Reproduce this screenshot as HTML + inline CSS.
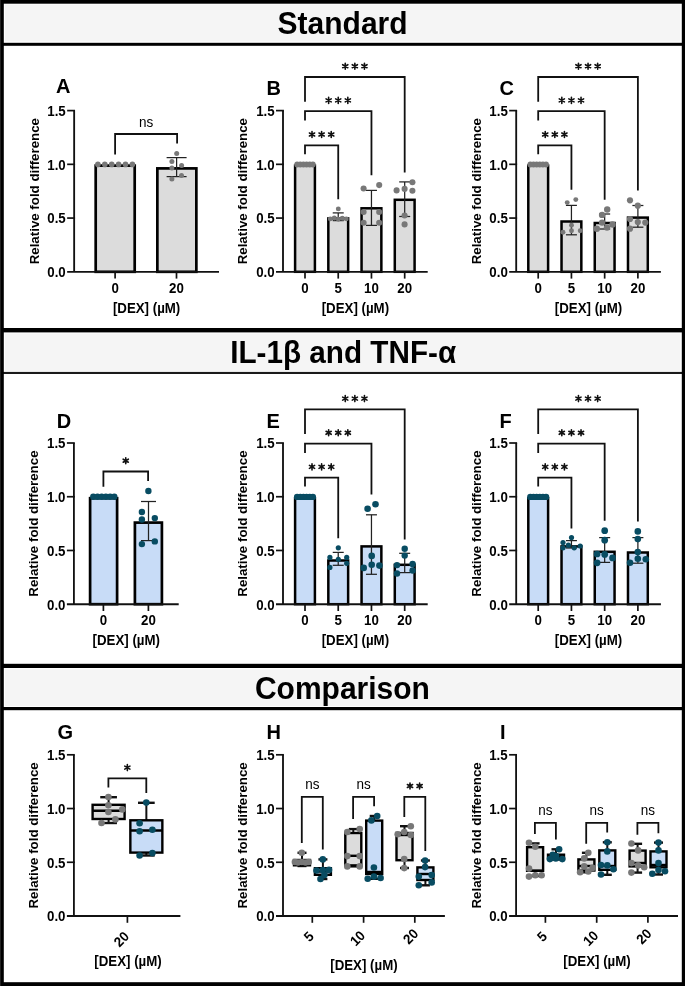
<!DOCTYPE html>
<html><head><meta charset="utf-8"><style>
html,body{margin:0;padding:0;background:#fff;}
svg{display:block;font-family:"Liberation Sans", sans-serif;will-change:transform;}
</style></head><body>
<svg width="685" height="986" viewBox="0 0 685 986" font-family='"Liberation Sans", sans-serif'>
<rect x="0" y="0" width="685" height="986" fill="#fff"/>
<rect x="5" y="4.5" width="675.2" height="37.0" fill="#f5f5f5"/>
<rect x="5" y="333.5" width="675.2" height="37.5" fill="#f5f5f5"/>
<rect x="5" y="669.5" width="675.2" height="36.5" fill="#f5f5f5"/>
<rect x="0" y="42.8" width="685" height="3.0" fill="#000"/>
<rect x="0" y="328.0" width="685" height="4.4" fill="#000"/>
<rect x="0" y="371.9" width="685" height="2.1" fill="#1a1a1a"/>
<rect x="0" y="663.8" width="685" height="4.2" fill="#000"/>
<rect x="0" y="707.0" width="685" height="3.2" fill="#000"/>
<rect x="0" y="0" width="685" height="3.7" fill="#000"/>
<rect x="0" y="982.2" width="685" height="3.8" fill="#000"/>
<rect x="0" y="0" width="3.8" height="986" fill="#000"/>
<rect x="681.8" y="0" width="3.2" height="986" fill="#000"/>
<rect x="0" y="0" width="1" height="986" fill="#222"/>
<text x="0" y="0" font-size="30" font-weight="bold" text-anchor="middle" transform="translate(342.60,33.60) scale(1,1.04)" >Standard</text>
<text x="0" y="0" font-size="29.7" font-weight="bold" text-anchor="middle" transform="translate(343.20,363.40) scale(1,1.04)" >IL-1β and TNF-α</text>
<text x="0" y="0" font-size="30" font-weight="bold" text-anchor="middle" transform="translate(342.40,698.70) scale(1,1.04)" >Comparison</text>
<rect x="95.70" y="165.60" width="39.00" height="106.20" fill="#dcdcdc" stroke="#000" stroke-width="2.7"/>
<rect x="157.35" y="168.40" width="39.00" height="103.40" fill="#dcdcdc" stroke="#000" stroke-width="2.7"/>
<line x1="176.60" y1="157.60" x2="176.60" y2="176.60" stroke="#222" stroke-width="1.25" stroke-linecap="butt"/>
<line x1="166.60" y1="157.60" x2="186.60" y2="157.60" stroke="#222" stroke-width="1.25" stroke-linecap="butt"/>
<line x1="166.60" y1="176.60" x2="186.60" y2="176.60" stroke="#222" stroke-width="1.25" stroke-linecap="butt"/>
<circle cx="97.90" cy="164.40" r="2.8" fill="#787878"/>
<circle cx="104.80" cy="164.40" r="2.8" fill="#787878"/>
<circle cx="111.70" cy="164.40" r="2.8" fill="#787878"/>
<circle cx="118.60" cy="164.40" r="2.8" fill="#787878"/>
<circle cx="125.50" cy="164.40" r="2.8" fill="#787878"/>
<circle cx="132.40" cy="164.40" r="2.8" fill="#787878"/>
<circle cx="176.70" cy="153.50" r="2.5" fill="#787878"/>
<circle cx="171.90" cy="161.60" r="2.5" fill="#787878"/>
<circle cx="181.60" cy="165.40" r="2.5" fill="#787878"/>
<circle cx="171.90" cy="168.00" r="2.5" fill="#787878"/>
<circle cx="181.50" cy="175.60" r="2.5" fill="#787878"/>
<circle cx="171.90" cy="179.10" r="2.5" fill="#787878"/>
<path d="M115.10 154.50V134.00H177.10V143.60" stroke="#111" stroke-width="1.8" fill="none"/>
<text x="0" y="0" font-size="13.5" font-weight="normal" text-anchor="middle" transform="translate(146.10,126.50) scale(1,1.04)" >ns</text>
<line x1="74.15" y1="110.60" x2="74.15" y2="271.80" stroke="#111" stroke-width="1.85" stroke-linecap="butt"/>
<line x1="67.15" y1="271.80" x2="219.00" y2="271.80" stroke="#111" stroke-width="1.85" stroke-linecap="butt"/>
<line x1="67.15" y1="110.60" x2="75.05" y2="110.60" stroke="#111" stroke-width="1.7" stroke-linecap="butt"/>
<text x="0" y="0" font-size="13.3" font-weight="bold" text-anchor="end" transform="translate(65.75,116.00) scale(1,1.04)" >1.5</text>
<line x1="67.15" y1="164.33" x2="75.05" y2="164.33" stroke="#111" stroke-width="1.7" stroke-linecap="butt"/>
<text x="0" y="0" font-size="13.3" font-weight="bold" text-anchor="end" transform="translate(65.75,169.73) scale(1,1.04)" >1.0</text>
<line x1="67.15" y1="218.07" x2="75.05" y2="218.07" stroke="#111" stroke-width="1.7" stroke-linecap="butt"/>
<text x="0" y="0" font-size="13.3" font-weight="bold" text-anchor="end" transform="translate(65.75,223.47) scale(1,1.04)" >0.5</text>
<text x="0" y="0" font-size="13.3" font-weight="bold" text-anchor="end" transform="translate(65.75,277.20) scale(1,1.04)" >0.0</text>
<line x1="115.10" y1="271.80" x2="115.10" y2="278.60" stroke="#111" stroke-width="1.7" stroke-linecap="butt"/>
<line x1="176.50" y1="271.80" x2="176.50" y2="278.60" stroke="#111" stroke-width="1.7" stroke-linecap="butt"/>
<text x="0" y="0" font-size="13.3" font-weight="bold" text-anchor="middle" transform="translate(115.10,292.50) scale(1,1.04)" >0</text>
<text x="0" y="0" font-size="13.3" font-weight="bold" text-anchor="middle" transform="translate(176.50,292.50) scale(1,1.04)" >20</text>
<text x="0" y="0" font-size="13.3" font-weight="bold" text-anchor="middle" transform="translate(38.55,191.20) rotate(-90) scale(1,0.97)" >Relative fold difference</text>
<text x="0" y="0" font-size="13.3" font-weight="bold" text-anchor="middle" transform="translate(146.57,312.60) scale(1,1.04)" >[DEX] (µM)</text>
<text x="0" y="0" font-size="20" font-weight="bold" text-anchor="start" transform="translate(56.00,93.30) scale(1,1.04)" >A</text>
<rect x="295.10" y="165.60" width="19.80" height="106.20" fill="#dcdcdc" stroke="#000" stroke-width="2.5"/>
<rect x="328.33" y="218.40" width="19.80" height="53.40" fill="#dcdcdc" stroke="#000" stroke-width="2.5"/>
<rect x="361.56" y="208.30" width="19.80" height="63.50" fill="#dcdcdc" stroke="#000" stroke-width="2.5"/>
<rect x="394.79" y="199.80" width="19.80" height="72.00" fill="#dcdcdc" stroke="#000" stroke-width="2.5"/>
<line x1="338.23" y1="212.90" x2="338.23" y2="220.60" stroke="#222" stroke-width="1.25" stroke-linecap="butt"/>
<line x1="332.73" y1="212.90" x2="343.73" y2="212.90" stroke="#222" stroke-width="1.25" stroke-linecap="butt"/>
<line x1="332.73" y1="220.60" x2="343.73" y2="220.60" stroke="#222" stroke-width="1.25" stroke-linecap="butt"/>
<line x1="371.46" y1="190.40" x2="371.46" y2="225.40" stroke="#222" stroke-width="1.25" stroke-linecap="butt"/>
<line x1="365.96" y1="190.40" x2="376.96" y2="190.40" stroke="#222" stroke-width="1.25" stroke-linecap="butt"/>
<line x1="365.96" y1="225.40" x2="376.96" y2="225.40" stroke="#222" stroke-width="1.25" stroke-linecap="butt"/>
<line x1="404.69" y1="181.90" x2="404.69" y2="216.50" stroke="#222" stroke-width="1.25" stroke-linecap="butt"/>
<line x1="399.19" y1="181.90" x2="410.19" y2="181.90" stroke="#222" stroke-width="1.25" stroke-linecap="butt"/>
<line x1="399.19" y1="216.50" x2="410.19" y2="216.50" stroke="#222" stroke-width="1.25" stroke-linecap="butt"/>
<circle cx="297.15" cy="164.50" r="2.9" fill="#787878"/>
<circle cx="300.29" cy="164.50" r="2.9" fill="#787878"/>
<circle cx="303.43" cy="164.50" r="2.9" fill="#787878"/>
<circle cx="306.57" cy="164.50" r="2.9" fill="#787878"/>
<circle cx="309.71" cy="164.50" r="2.9" fill="#787878"/>
<circle cx="312.85" cy="164.50" r="2.9" fill="#787878"/>
<circle cx="338.30" cy="208.90" r="2.45" fill="#787878"/>
<circle cx="330.30" cy="218.90" r="2.45" fill="#787878"/>
<circle cx="334.30" cy="218.00" r="2.45" fill="#787878"/>
<circle cx="338.30" cy="219.20" r="2.45" fill="#787878"/>
<circle cx="342.30" cy="218.20" r="2.45" fill="#787878"/>
<circle cx="346.30" cy="218.90" r="2.45" fill="#787878"/>
<circle cx="363.60" cy="188.50" r="3.05" fill="#787878"/>
<circle cx="379.20" cy="185.10" r="3.05" fill="#787878"/>
<circle cx="363.60" cy="212.00" r="3.05" fill="#787878"/>
<circle cx="379.20" cy="212.00" r="3.05" fill="#787878"/>
<circle cx="363.60" cy="222.70" r="3.05" fill="#787878"/>
<circle cx="379.20" cy="222.70" r="3.05" fill="#787878"/>
<circle cx="412.40" cy="182.30" r="3.05" fill="#787878"/>
<circle cx="396.60" cy="190.40" r="3.05" fill="#787878"/>
<circle cx="404.60" cy="188.90" r="3.05" fill="#787878"/>
<circle cx="412.40" cy="190.80" r="3.05" fill="#787878"/>
<circle cx="404.60" cy="215.50" r="3.05" fill="#787878"/>
<circle cx="404.60" cy="224.40" r="3.05" fill="#787878"/>
<path d="M305.00 154.20V145.30H338.23V199.30" stroke="#111" stroke-width="1.8" fill="none"/>
<path d="M312.01 137.50L312.01 131.50M309.42 136.00L314.61 133.00M309.42 133.00L314.61 136.00" stroke="#111" stroke-width="1.6" stroke-linecap="round" fill="none"/>
<path d="M321.62 137.50L321.62 131.50M319.02 136.00L324.21 133.00M319.02 133.00L324.21 136.00" stroke="#111" stroke-width="1.6" stroke-linecap="round" fill="none"/>
<path d="M331.21 137.50L331.21 131.50M328.62 136.00L333.81 133.00M328.62 133.00L333.81 136.00" stroke="#111" stroke-width="1.6" stroke-linecap="round" fill="none"/>
<path d="M305.00 120.50V111.20H371.46V175.20" stroke="#111" stroke-width="1.8" fill="none"/>
<path d="M328.63 103.40L328.63 97.40M326.03 101.90L331.23 98.90M326.03 98.90L331.23 101.90" stroke="#111" stroke-width="1.6" stroke-linecap="round" fill="none"/>
<path d="M338.23 103.40L338.23 97.40M335.63 101.90L340.83 98.90M335.63 98.90L340.83 101.90" stroke="#111" stroke-width="1.6" stroke-linecap="round" fill="none"/>
<path d="M347.83 103.40L347.83 97.40M345.23 101.90L350.43 98.90M345.23 98.90L350.43 101.90" stroke="#111" stroke-width="1.6" stroke-linecap="round" fill="none"/>
<path d="M305.00 101.70V77.00H404.69V172.40" stroke="#111" stroke-width="1.8" fill="none"/>
<path d="M345.25 69.20L345.25 63.20M342.65 67.70L347.84 64.70M342.65 64.70L347.84 67.70" stroke="#111" stroke-width="1.6" stroke-linecap="round" fill="none"/>
<path d="M354.85 69.20L354.85 63.20M352.25 67.70L357.44 64.70M352.25 64.70L357.44 67.70" stroke="#111" stroke-width="1.6" stroke-linecap="round" fill="none"/>
<path d="M364.44 69.20L364.44 63.20M361.85 67.70L367.04 64.70M361.85 64.70L367.04 67.70" stroke="#111" stroke-width="1.6" stroke-linecap="round" fill="none"/>
<line x1="283.00" y1="110.60" x2="283.00" y2="271.80" stroke="#111" stroke-width="1.85" stroke-linecap="butt"/>
<line x1="276.00" y1="271.80" x2="427.70" y2="271.80" stroke="#111" stroke-width="1.85" stroke-linecap="butt"/>
<line x1="276.00" y1="110.60" x2="283.90" y2="110.60" stroke="#111" stroke-width="1.7" stroke-linecap="butt"/>
<text x="0" y="0" font-size="13.3" font-weight="bold" text-anchor="end" transform="translate(274.60,116.00) scale(1,1.04)" >1.5</text>
<line x1="276.00" y1="164.33" x2="283.90" y2="164.33" stroke="#111" stroke-width="1.7" stroke-linecap="butt"/>
<text x="0" y="0" font-size="13.3" font-weight="bold" text-anchor="end" transform="translate(274.60,169.73) scale(1,1.04)" >1.0</text>
<line x1="276.00" y1="218.07" x2="283.90" y2="218.07" stroke="#111" stroke-width="1.7" stroke-linecap="butt"/>
<text x="0" y="0" font-size="13.3" font-weight="bold" text-anchor="end" transform="translate(274.60,223.47) scale(1,1.04)" >0.5</text>
<text x="0" y="0" font-size="13.3" font-weight="bold" text-anchor="end" transform="translate(274.60,277.20) scale(1,1.04)" >0.0</text>
<line x1="305.00" y1="271.80" x2="305.00" y2="278.60" stroke="#111" stroke-width="1.7" stroke-linecap="butt"/>
<line x1="338.23" y1="271.80" x2="338.23" y2="278.60" stroke="#111" stroke-width="1.7" stroke-linecap="butt"/>
<line x1="371.46" y1="271.80" x2="371.46" y2="278.60" stroke="#111" stroke-width="1.7" stroke-linecap="butt"/>
<line x1="404.69" y1="271.80" x2="404.69" y2="278.60" stroke="#111" stroke-width="1.7" stroke-linecap="butt"/>
<text x="0" y="0" font-size="13.3" font-weight="bold" text-anchor="middle" transform="translate(305.00,292.50) scale(1,1.04)" >0</text>
<text x="0" y="0" font-size="13.3" font-weight="bold" text-anchor="middle" transform="translate(338.23,292.50) scale(1,1.04)" >5</text>
<text x="0" y="0" font-size="13.3" font-weight="bold" text-anchor="middle" transform="translate(371.46,292.50) scale(1,1.04)" >10</text>
<text x="0" y="0" font-size="13.3" font-weight="bold" text-anchor="middle" transform="translate(404.69,292.50) scale(1,1.04)" >20</text>
<text x="0" y="0" font-size="13.3" font-weight="bold" text-anchor="middle" transform="translate(247.40,191.20) rotate(-90) scale(1,0.97)" >Relative fold difference</text>
<text x="0" y="0" font-size="13.3" font-weight="bold" text-anchor="middle" transform="translate(355.35,312.60) scale(1,1.04)" >[DEX] (µM)</text>
<text x="0" y="0" font-size="20" font-weight="bold" text-anchor="start" transform="translate(266.40,94.80) scale(1,1.04)" >B</text>
<rect x="528.30" y="165.60" width="19.80" height="106.20" fill="#dcdcdc" stroke="#000" stroke-width="2.5"/>
<rect x="561.53" y="221.50" width="19.80" height="50.30" fill="#dcdcdc" stroke="#000" stroke-width="2.5"/>
<rect x="594.76" y="223.00" width="19.80" height="48.80" fill="#dcdcdc" stroke="#000" stroke-width="2.5"/>
<rect x="627.99" y="217.60" width="19.80" height="54.20" fill="#dcdcdc" stroke="#000" stroke-width="2.5"/>
<line x1="571.43" y1="205.40" x2="571.43" y2="234.80" stroke="#222" stroke-width="1.25" stroke-linecap="butt"/>
<line x1="565.93" y1="205.40" x2="576.93" y2="205.40" stroke="#222" stroke-width="1.25" stroke-linecap="butt"/>
<line x1="565.93" y1="234.80" x2="576.93" y2="234.80" stroke="#222" stroke-width="1.25" stroke-linecap="butt"/>
<line x1="604.66" y1="214.00" x2="604.66" y2="229.00" stroke="#222" stroke-width="1.25" stroke-linecap="butt"/>
<line x1="599.16" y1="214.00" x2="610.16" y2="214.00" stroke="#222" stroke-width="1.25" stroke-linecap="butt"/>
<line x1="599.16" y1="229.00" x2="610.16" y2="229.00" stroke="#222" stroke-width="1.25" stroke-linecap="butt"/>
<line x1="637.89" y1="205.50" x2="637.89" y2="227.20" stroke="#222" stroke-width="1.25" stroke-linecap="butt"/>
<line x1="632.39" y1="205.50" x2="643.39" y2="205.50" stroke="#222" stroke-width="1.25" stroke-linecap="butt"/>
<line x1="632.39" y1="227.20" x2="643.39" y2="227.20" stroke="#222" stroke-width="1.25" stroke-linecap="butt"/>
<circle cx="530.35" cy="164.50" r="2.9" fill="#787878"/>
<circle cx="533.49" cy="164.50" r="2.9" fill="#787878"/>
<circle cx="536.63" cy="164.50" r="2.9" fill="#787878"/>
<circle cx="539.77" cy="164.50" r="2.9" fill="#787878"/>
<circle cx="542.91" cy="164.50" r="2.9" fill="#787878"/>
<circle cx="546.05" cy="164.50" r="2.9" fill="#787878"/>
<circle cx="567.20" cy="202.60" r="2.45" fill="#787878"/>
<circle cx="575.80" cy="199.60" r="2.45" fill="#787878"/>
<circle cx="571.50" cy="225.20" r="2.45" fill="#787878"/>
<circle cx="571.50" cy="230.70" r="2.45" fill="#787878"/>
<circle cx="563.00" cy="232.20" r="2.45" fill="#787878"/>
<circle cx="580.20" cy="230.70" r="2.45" fill="#787878"/>
<circle cx="607.20" cy="209.50" r="3.2" fill="#787878"/>
<circle cx="602.10" cy="214.90" r="3.2" fill="#787878"/>
<circle cx="602.10" cy="222.60" r="3.2" fill="#787878"/>
<circle cx="612.50" cy="224.50" r="3.2" fill="#787878"/>
<circle cx="596.80" cy="228.70" r="3.2" fill="#787878"/>
<circle cx="607.00" cy="227.60" r="3.2" fill="#787878"/>
<circle cx="630.00" cy="200.30" r="3.1" fill="#787878"/>
<circle cx="637.80" cy="205.70" r="3.1" fill="#787878"/>
<circle cx="630.00" cy="219.00" r="3.1" fill="#787878"/>
<circle cx="637.80" cy="222.10" r="3.1" fill="#787878"/>
<circle cx="645.30" cy="222.60" r="3.1" fill="#787878"/>
<circle cx="630.00" cy="228.70" r="3.1" fill="#787878"/>
<path d="M538.20 154.20V145.30H571.43V189.80" stroke="#111" stroke-width="1.8" fill="none"/>
<path d="M545.22 137.50L545.22 131.50M542.62 136.00L547.81 133.00M542.62 133.00L547.81 136.00" stroke="#111" stroke-width="1.6" stroke-linecap="round" fill="none"/>
<path d="M554.82 137.50L554.82 131.50M552.22 136.00L557.41 133.00M552.22 133.00L557.41 136.00" stroke="#111" stroke-width="1.6" stroke-linecap="round" fill="none"/>
<path d="M564.42 137.50L564.42 131.50M561.82 136.00L567.01 133.00M561.82 133.00L567.01 136.00" stroke="#111" stroke-width="1.6" stroke-linecap="round" fill="none"/>
<path d="M538.20 120.50V111.20H604.66V199.70" stroke="#111" stroke-width="1.8" fill="none"/>
<path d="M561.83 103.40L561.83 97.40M559.23 101.90L564.43 98.90M559.23 98.90L564.43 101.90" stroke="#111" stroke-width="1.6" stroke-linecap="round" fill="none"/>
<path d="M571.43 103.40L571.43 97.40M568.83 101.90L574.03 98.90M568.83 98.90L574.03 101.90" stroke="#111" stroke-width="1.6" stroke-linecap="round" fill="none"/>
<path d="M581.03 103.40L581.03 97.40M578.43 101.90L583.63 98.90M578.43 98.90L583.63 101.90" stroke="#111" stroke-width="1.6" stroke-linecap="round" fill="none"/>
<path d="M538.20 101.70V77.00H637.89V190.40" stroke="#111" stroke-width="1.8" fill="none"/>
<path d="M578.45 69.20L578.45 63.20M575.85 67.70L581.04 64.70M575.85 64.70L581.04 67.70" stroke="#111" stroke-width="1.6" stroke-linecap="round" fill="none"/>
<path d="M588.05 69.20L588.05 63.20M585.45 67.70L590.64 64.70M585.45 64.70L590.64 67.70" stroke="#111" stroke-width="1.6" stroke-linecap="round" fill="none"/>
<path d="M597.65 69.20L597.65 63.20M595.05 67.70L600.24 64.70M595.05 64.70L600.24 67.70" stroke="#111" stroke-width="1.6" stroke-linecap="round" fill="none"/>
<line x1="516.20" y1="110.60" x2="516.20" y2="271.80" stroke="#111" stroke-width="1.85" stroke-linecap="butt"/>
<line x1="509.20" y1="271.80" x2="660.90" y2="271.80" stroke="#111" stroke-width="1.85" stroke-linecap="butt"/>
<line x1="509.20" y1="110.60" x2="517.10" y2="110.60" stroke="#111" stroke-width="1.7" stroke-linecap="butt"/>
<text x="0" y="0" font-size="13.3" font-weight="bold" text-anchor="end" transform="translate(507.80,116.00) scale(1,1.04)" >1.5</text>
<line x1="509.20" y1="164.33" x2="517.10" y2="164.33" stroke="#111" stroke-width="1.7" stroke-linecap="butt"/>
<text x="0" y="0" font-size="13.3" font-weight="bold" text-anchor="end" transform="translate(507.80,169.73) scale(1,1.04)" >1.0</text>
<line x1="509.20" y1="218.07" x2="517.10" y2="218.07" stroke="#111" stroke-width="1.7" stroke-linecap="butt"/>
<text x="0" y="0" font-size="13.3" font-weight="bold" text-anchor="end" transform="translate(507.80,223.47) scale(1,1.04)" >0.5</text>
<text x="0" y="0" font-size="13.3" font-weight="bold" text-anchor="end" transform="translate(507.80,277.20) scale(1,1.04)" >0.0</text>
<line x1="538.20" y1="271.80" x2="538.20" y2="278.60" stroke="#111" stroke-width="1.7" stroke-linecap="butt"/>
<line x1="571.43" y1="271.80" x2="571.43" y2="278.60" stroke="#111" stroke-width="1.7" stroke-linecap="butt"/>
<line x1="604.66" y1="271.80" x2="604.66" y2="278.60" stroke="#111" stroke-width="1.7" stroke-linecap="butt"/>
<line x1="637.89" y1="271.80" x2="637.89" y2="278.60" stroke="#111" stroke-width="1.7" stroke-linecap="butt"/>
<text x="0" y="0" font-size="13.3" font-weight="bold" text-anchor="middle" transform="translate(538.20,292.50) scale(1,1.04)" >0</text>
<text x="0" y="0" font-size="13.3" font-weight="bold" text-anchor="middle" transform="translate(571.43,292.50) scale(1,1.04)" >5</text>
<text x="0" y="0" font-size="13.3" font-weight="bold" text-anchor="middle" transform="translate(604.66,292.50) scale(1,1.04)" >10</text>
<text x="0" y="0" font-size="13.3" font-weight="bold" text-anchor="middle" transform="translate(637.89,292.50) scale(1,1.04)" >20</text>
<text x="0" y="0" font-size="13.3" font-weight="bold" text-anchor="middle" transform="translate(480.60,191.20) rotate(-90) scale(1,0.97)" >Relative fold difference</text>
<text x="0" y="0" font-size="13.3" font-weight="bold" text-anchor="middle" transform="translate(588.55,312.60) scale(1,1.04)" >[DEX] (µM)</text>
<text x="0" y="0" font-size="20" font-weight="bold" text-anchor="start" transform="translate(499.40,94.80) scale(1,1.04)" >C</text>
<rect x="90.10" y="498.20" width="27.00" height="106.00" fill="#c8dcf7" stroke="#000" stroke-width="2.7"/>
<rect x="134.90" y="522.60" width="27.00" height="81.60" fill="#c8dcf7" stroke="#000" stroke-width="2.7"/>
<line x1="148.50" y1="501.50" x2="148.50" y2="540.60" stroke="#222" stroke-width="1.25" stroke-linecap="butt"/>
<line x1="141.00" y1="501.50" x2="156.00" y2="501.50" stroke="#222" stroke-width="1.25" stroke-linecap="butt"/>
<line x1="141.00" y1="540.60" x2="156.00" y2="540.60" stroke="#222" stroke-width="1.25" stroke-linecap="butt"/>
<circle cx="93.30" cy="496.70" r="3.2" fill="#084c62"/>
<circle cx="97.50" cy="496.70" r="3.2" fill="#084c62"/>
<circle cx="101.70" cy="496.70" r="3.2" fill="#084c62"/>
<circle cx="105.90" cy="496.70" r="3.2" fill="#084c62"/>
<circle cx="110.10" cy="496.70" r="3.2" fill="#084c62"/>
<circle cx="114.30" cy="496.70" r="3.2" fill="#084c62"/>
<circle cx="148.40" cy="491.00" r="3.2" fill="#084c62"/>
<circle cx="141.90" cy="512.00" r="3.2" fill="#084c62"/>
<circle cx="141.90" cy="519.50" r="3.2" fill="#084c62"/>
<circle cx="154.80" cy="518.10" r="3.2" fill="#084c62"/>
<circle cx="141.90" cy="544.10" r="3.2" fill="#084c62"/>
<circle cx="154.80" cy="541.40" r="3.2" fill="#084c62"/>
<path d="M103.40 486.70V471.50H148.10V480.90" stroke="#111" stroke-width="1.8" fill="none"/>
<path d="M125.75 463.70L125.75 457.70M123.15 462.20L128.35 459.20M123.15 459.20L128.35 462.20" stroke="#111" stroke-width="1.6" stroke-linecap="round" fill="none"/>
<line x1="73.90" y1="443.00" x2="73.90" y2="604.20" stroke="#111" stroke-width="1.85" stroke-linecap="butt"/>
<line x1="66.90" y1="604.20" x2="178.70" y2="604.20" stroke="#111" stroke-width="1.85" stroke-linecap="butt"/>
<line x1="66.90" y1="443.00" x2="74.80" y2="443.00" stroke="#111" stroke-width="1.7" stroke-linecap="butt"/>
<text x="0" y="0" font-size="13.3" font-weight="bold" text-anchor="end" transform="translate(65.50,448.40) scale(1,1.04)" >1.5</text>
<line x1="66.90" y1="496.73" x2="74.80" y2="496.73" stroke="#111" stroke-width="1.7" stroke-linecap="butt"/>
<text x="0" y="0" font-size="13.3" font-weight="bold" text-anchor="end" transform="translate(65.50,502.13) scale(1,1.04)" >1.0</text>
<line x1="66.90" y1="550.47" x2="74.80" y2="550.47" stroke="#111" stroke-width="1.7" stroke-linecap="butt"/>
<text x="0" y="0" font-size="13.3" font-weight="bold" text-anchor="end" transform="translate(65.50,555.87) scale(1,1.04)" >0.5</text>
<text x="0" y="0" font-size="13.3" font-weight="bold" text-anchor="end" transform="translate(65.50,609.60) scale(1,1.04)" >0.0</text>
<line x1="103.40" y1="604.20" x2="103.40" y2="611.00" stroke="#111" stroke-width="1.7" stroke-linecap="butt"/>
<line x1="148.40" y1="604.20" x2="148.40" y2="611.00" stroke="#111" stroke-width="1.7" stroke-linecap="butt"/>
<text x="0" y="0" font-size="13.3" font-weight="bold" text-anchor="middle" transform="translate(103.40,624.90) scale(1,1.04)" >0</text>
<text x="0" y="0" font-size="13.3" font-weight="bold" text-anchor="middle" transform="translate(148.40,624.90) scale(1,1.04)" >20</text>
<text x="0" y="0" font-size="13.3" font-weight="bold" text-anchor="middle" transform="translate(38.30,523.60) rotate(-90) scale(1,0.97)" >Relative fold difference</text>
<text x="0" y="0" font-size="13.3" font-weight="bold" text-anchor="middle" transform="translate(126.30,645.00) scale(1,1.04)" >[DEX] (µM)</text>
<text x="0" y="0" font-size="20" font-weight="bold" text-anchor="start" transform="translate(56.80,427.70) scale(1,1.04)" >D</text>
<rect x="295.10" y="498.20" width="19.80" height="106.00" fill="#c8dcf7" stroke="#000" stroke-width="2.5"/>
<rect x="328.33" y="560.50" width="19.80" height="43.70" fill="#c8dcf7" stroke="#000" stroke-width="2.5"/>
<rect x="361.56" y="546.40" width="19.80" height="57.80" fill="#c8dcf7" stroke="#000" stroke-width="2.5"/>
<rect x="394.79" y="564.80" width="19.80" height="39.40" fill="#c8dcf7" stroke="#000" stroke-width="2.5"/>
<line x1="338.23" y1="552.40" x2="338.23" y2="565.30" stroke="#222" stroke-width="1.25" stroke-linecap="butt"/>
<line x1="332.73" y1="552.40" x2="343.73" y2="552.40" stroke="#222" stroke-width="1.25" stroke-linecap="butt"/>
<line x1="332.73" y1="565.30" x2="343.73" y2="565.30" stroke="#222" stroke-width="1.25" stroke-linecap="butt"/>
<line x1="371.46" y1="514.80" x2="371.46" y2="574.30" stroke="#222" stroke-width="1.25" stroke-linecap="butt"/>
<line x1="365.96" y1="514.80" x2="376.96" y2="514.80" stroke="#222" stroke-width="1.25" stroke-linecap="butt"/>
<line x1="365.96" y1="574.30" x2="376.96" y2="574.30" stroke="#222" stroke-width="1.25" stroke-linecap="butt"/>
<line x1="404.69" y1="553.30" x2="404.69" y2="572.60" stroke="#222" stroke-width="1.25" stroke-linecap="butt"/>
<line x1="399.19" y1="553.30" x2="410.19" y2="553.30" stroke="#222" stroke-width="1.25" stroke-linecap="butt"/>
<line x1="399.19" y1="572.60" x2="410.19" y2="572.60" stroke="#222" stroke-width="1.25" stroke-linecap="butt"/>
<circle cx="297.15" cy="496.90" r="3.2" fill="#084c62"/>
<circle cx="300.29" cy="496.90" r="3.2" fill="#084c62"/>
<circle cx="303.43" cy="496.90" r="3.2" fill="#084c62"/>
<circle cx="306.57" cy="496.90" r="3.2" fill="#084c62"/>
<circle cx="309.71" cy="496.90" r="3.2" fill="#084c62"/>
<circle cx="312.85" cy="496.90" r="3.2" fill="#084c62"/>
<circle cx="338.30" cy="547.80" r="2.6" fill="#084c62"/>
<circle cx="329.90" cy="557.40" r="2.6" fill="#084c62"/>
<circle cx="338.30" cy="559.30" r="2.6" fill="#084c62"/>
<circle cx="346.70" cy="557.40" r="2.6" fill="#084c62"/>
<circle cx="346.70" cy="563.30" r="2.6" fill="#084c62"/>
<circle cx="329.90" cy="567.40" r="2.6" fill="#084c62"/>
<circle cx="367.60" cy="508.70" r="3.3" fill="#084c62"/>
<circle cx="375.50" cy="504.30" r="3.3" fill="#084c62"/>
<circle cx="371.70" cy="555.90" r="3.3" fill="#084c62"/>
<circle cx="371.70" cy="564.80" r="3.3" fill="#084c62"/>
<circle cx="363.70" cy="567.90" r="3.3" fill="#084c62"/>
<circle cx="379.40" cy="565.60" r="3.3" fill="#084c62"/>
<circle cx="404.70" cy="548.70" r="3.2" fill="#084c62"/>
<circle cx="404.70" cy="555.60" r="3.2" fill="#084c62"/>
<circle cx="397.00" cy="565.10" r="3.2" fill="#084c62"/>
<circle cx="412.60" cy="564.00" r="3.2" fill="#084c62"/>
<circle cx="397.00" cy="573.50" r="3.2" fill="#084c62"/>
<circle cx="412.60" cy="570.50" r="3.2" fill="#084c62"/>
<path d="M305.00 486.60V477.70H338.23V538.30" stroke="#111" stroke-width="1.8" fill="none"/>
<path d="M312.01 469.90L312.01 463.90M309.42 468.40L314.61 465.40M309.42 465.40L314.61 468.40" stroke="#111" stroke-width="1.6" stroke-linecap="round" fill="none"/>
<path d="M321.62 469.90L321.62 463.90M319.02 468.40L324.21 465.40M319.02 465.40L324.21 468.40" stroke="#111" stroke-width="1.6" stroke-linecap="round" fill="none"/>
<path d="M331.21 469.90L331.21 463.90M328.62 468.40L333.81 465.40M328.62 465.40L333.81 468.40" stroke="#111" stroke-width="1.6" stroke-linecap="round" fill="none"/>
<path d="M305.00 452.90V443.60H371.46V494.60" stroke="#111" stroke-width="1.8" fill="none"/>
<path d="M328.63 435.80L328.63 429.80M326.03 434.30L331.23 431.30M326.03 431.30L331.23 434.30" stroke="#111" stroke-width="1.6" stroke-linecap="round" fill="none"/>
<path d="M338.23 435.80L338.23 429.80M335.63 434.30L340.83 431.30M335.63 431.30L340.83 434.30" stroke="#111" stroke-width="1.6" stroke-linecap="round" fill="none"/>
<path d="M347.83 435.80L347.83 429.80M345.23 434.30L350.43 431.30M345.23 431.30L350.43 434.30" stroke="#111" stroke-width="1.6" stroke-linecap="round" fill="none"/>
<path d="M305.00 434.10V409.40H404.69V539.40" stroke="#111" stroke-width="1.8" fill="none"/>
<path d="M345.25 401.60L345.25 395.60M342.65 400.10L347.84 397.10M342.65 397.10L347.84 400.10" stroke="#111" stroke-width="1.6" stroke-linecap="round" fill="none"/>
<path d="M354.85 401.60L354.85 395.60M352.25 400.10L357.44 397.10M352.25 397.10L357.44 400.10" stroke="#111" stroke-width="1.6" stroke-linecap="round" fill="none"/>
<path d="M364.44 401.60L364.44 395.60M361.85 400.10L367.04 397.10M361.85 397.10L367.04 400.10" stroke="#111" stroke-width="1.6" stroke-linecap="round" fill="none"/>
<line x1="283.00" y1="443.00" x2="283.00" y2="604.20" stroke="#111" stroke-width="1.85" stroke-linecap="butt"/>
<line x1="276.00" y1="604.20" x2="427.70" y2="604.20" stroke="#111" stroke-width="1.85" stroke-linecap="butt"/>
<line x1="276.00" y1="443.00" x2="283.90" y2="443.00" stroke="#111" stroke-width="1.7" stroke-linecap="butt"/>
<text x="0" y="0" font-size="13.3" font-weight="bold" text-anchor="end" transform="translate(274.60,448.40) scale(1,1.04)" >1.5</text>
<line x1="276.00" y1="496.73" x2="283.90" y2="496.73" stroke="#111" stroke-width="1.7" stroke-linecap="butt"/>
<text x="0" y="0" font-size="13.3" font-weight="bold" text-anchor="end" transform="translate(274.60,502.13) scale(1,1.04)" >1.0</text>
<line x1="276.00" y1="550.47" x2="283.90" y2="550.47" stroke="#111" stroke-width="1.7" stroke-linecap="butt"/>
<text x="0" y="0" font-size="13.3" font-weight="bold" text-anchor="end" transform="translate(274.60,555.87) scale(1,1.04)" >0.5</text>
<text x="0" y="0" font-size="13.3" font-weight="bold" text-anchor="end" transform="translate(274.60,609.60) scale(1,1.04)" >0.0</text>
<line x1="305.00" y1="604.20" x2="305.00" y2="611.00" stroke="#111" stroke-width="1.7" stroke-linecap="butt"/>
<line x1="338.23" y1="604.20" x2="338.23" y2="611.00" stroke="#111" stroke-width="1.7" stroke-linecap="butt"/>
<line x1="371.46" y1="604.20" x2="371.46" y2="611.00" stroke="#111" stroke-width="1.7" stroke-linecap="butt"/>
<line x1="404.69" y1="604.20" x2="404.69" y2="611.00" stroke="#111" stroke-width="1.7" stroke-linecap="butt"/>
<text x="0" y="0" font-size="13.3" font-weight="bold" text-anchor="middle" transform="translate(305.00,624.90) scale(1,1.04)" >0</text>
<text x="0" y="0" font-size="13.3" font-weight="bold" text-anchor="middle" transform="translate(338.23,624.90) scale(1,1.04)" >5</text>
<text x="0" y="0" font-size="13.3" font-weight="bold" text-anchor="middle" transform="translate(371.46,624.90) scale(1,1.04)" >10</text>
<text x="0" y="0" font-size="13.3" font-weight="bold" text-anchor="middle" transform="translate(404.69,624.90) scale(1,1.04)" >20</text>
<text x="0" y="0" font-size="13.3" font-weight="bold" text-anchor="middle" transform="translate(247.40,523.60) rotate(-90) scale(1,0.97)" >Relative fold difference</text>
<text x="0" y="0" font-size="13.3" font-weight="bold" text-anchor="middle" transform="translate(355.35,645.00) scale(1,1.04)" >[DEX] (µM)</text>
<text x="0" y="0" font-size="20" font-weight="bold" text-anchor="start" transform="translate(266.60,427.50) scale(1,1.04)" >E</text>
<rect x="528.30" y="498.20" width="19.80" height="106.00" fill="#c8dcf7" stroke="#000" stroke-width="2.5"/>
<rect x="561.53" y="546.40" width="19.80" height="57.80" fill="#c8dcf7" stroke="#000" stroke-width="2.5"/>
<rect x="594.76" y="551.80" width="19.80" height="52.40" fill="#c8dcf7" stroke="#000" stroke-width="2.5"/>
<rect x="627.99" y="552.50" width="19.80" height="51.70" fill="#c8dcf7" stroke="#000" stroke-width="2.5"/>
<line x1="571.43" y1="540.60" x2="571.43" y2="548.00" stroke="#222" stroke-width="1.25" stroke-linecap="butt"/>
<line x1="565.93" y1="540.60" x2="576.93" y2="540.60" stroke="#222" stroke-width="1.25" stroke-linecap="butt"/>
<line x1="565.93" y1="548.00" x2="576.93" y2="548.00" stroke="#222" stroke-width="1.25" stroke-linecap="butt"/>
<line x1="604.66" y1="537.60" x2="604.66" y2="562.40" stroke="#222" stroke-width="1.25" stroke-linecap="butt"/>
<line x1="599.16" y1="537.60" x2="610.16" y2="537.60" stroke="#222" stroke-width="1.25" stroke-linecap="butt"/>
<line x1="599.16" y1="562.40" x2="610.16" y2="562.40" stroke="#222" stroke-width="1.25" stroke-linecap="butt"/>
<line x1="637.89" y1="537.60" x2="637.89" y2="563.20" stroke="#222" stroke-width="1.25" stroke-linecap="butt"/>
<line x1="632.39" y1="537.60" x2="643.39" y2="537.60" stroke="#222" stroke-width="1.25" stroke-linecap="butt"/>
<line x1="632.39" y1="563.20" x2="643.39" y2="563.20" stroke="#222" stroke-width="1.25" stroke-linecap="butt"/>
<circle cx="530.35" cy="496.90" r="3.2" fill="#084c62"/>
<circle cx="533.49" cy="496.90" r="3.2" fill="#084c62"/>
<circle cx="536.63" cy="496.90" r="3.2" fill="#084c62"/>
<circle cx="539.77" cy="496.90" r="3.2" fill="#084c62"/>
<circle cx="542.91" cy="496.90" r="3.2" fill="#084c62"/>
<circle cx="546.05" cy="496.90" r="3.2" fill="#084c62"/>
<circle cx="571.50" cy="537.60" r="2.6" fill="#084c62"/>
<circle cx="563.00" cy="542.60" r="2.6" fill="#084c62"/>
<circle cx="568.40" cy="545.20" r="2.6" fill="#084c62"/>
<circle cx="563.00" cy="547.80" r="2.6" fill="#084c62"/>
<circle cx="574.20" cy="547.80" r="2.6" fill="#084c62"/>
<circle cx="580.20" cy="546.00" r="2.6" fill="#084c62"/>
<circle cx="604.70" cy="530.70" r="3.35" fill="#084c62"/>
<circle cx="604.70" cy="540.20" r="3.35" fill="#084c62"/>
<circle cx="597.10" cy="554.00" r="3.35" fill="#084c62"/>
<circle cx="604.70" cy="554.40" r="3.35" fill="#084c62"/>
<circle cx="612.50" cy="557.90" r="3.35" fill="#084c62"/>
<circle cx="597.10" cy="562.80" r="3.35" fill="#084c62"/>
<circle cx="637.80" cy="531.40" r="3.3" fill="#084c62"/>
<circle cx="637.80" cy="539.10" r="3.3" fill="#084c62"/>
<circle cx="637.80" cy="552.10" r="3.3" fill="#084c62"/>
<circle cx="637.80" cy="558.70" r="3.3" fill="#084c62"/>
<circle cx="645.80" cy="559.30" r="3.3" fill="#084c62"/>
<circle cx="630.00" cy="562.80" r="3.3" fill="#084c62"/>
<path d="M538.20 486.60V477.70H571.43V528.40" stroke="#111" stroke-width="1.8" fill="none"/>
<path d="M545.22 469.90L545.22 463.90M542.62 468.40L547.81 465.40M542.62 465.40L547.81 468.40" stroke="#111" stroke-width="1.6" stroke-linecap="round" fill="none"/>
<path d="M554.82 469.90L554.82 463.90M552.22 468.40L557.41 465.40M552.22 465.40L557.41 468.40" stroke="#111" stroke-width="1.6" stroke-linecap="round" fill="none"/>
<path d="M564.42 469.90L564.42 463.90M561.82 468.40L567.01 465.40M561.82 465.40L567.01 468.40" stroke="#111" stroke-width="1.6" stroke-linecap="round" fill="none"/>
<path d="M538.20 452.90V443.60H604.66V520.70" stroke="#111" stroke-width="1.8" fill="none"/>
<path d="M561.83 435.80L561.83 429.80M559.23 434.30L564.43 431.30M559.23 431.30L564.43 434.30" stroke="#111" stroke-width="1.6" stroke-linecap="round" fill="none"/>
<path d="M571.43 435.80L571.43 429.80M568.83 434.30L574.03 431.30M568.83 431.30L574.03 434.30" stroke="#111" stroke-width="1.6" stroke-linecap="round" fill="none"/>
<path d="M581.03 435.80L581.03 429.80M578.43 434.30L583.63 431.30M578.43 431.30L583.63 434.30" stroke="#111" stroke-width="1.6" stroke-linecap="round" fill="none"/>
<path d="M538.20 434.10V409.40H637.89V521.50" stroke="#111" stroke-width="1.8" fill="none"/>
<path d="M578.45 401.60L578.45 395.60M575.85 400.10L581.04 397.10M575.85 397.10L581.04 400.10" stroke="#111" stroke-width="1.6" stroke-linecap="round" fill="none"/>
<path d="M588.05 401.60L588.05 395.60M585.45 400.10L590.64 397.10M585.45 397.10L590.64 400.10" stroke="#111" stroke-width="1.6" stroke-linecap="round" fill="none"/>
<path d="M597.65 401.60L597.65 395.60M595.05 400.10L600.24 397.10M595.05 397.10L600.24 400.10" stroke="#111" stroke-width="1.6" stroke-linecap="round" fill="none"/>
<line x1="516.20" y1="443.00" x2="516.20" y2="604.20" stroke="#111" stroke-width="1.85" stroke-linecap="butt"/>
<line x1="509.20" y1="604.20" x2="660.90" y2="604.20" stroke="#111" stroke-width="1.85" stroke-linecap="butt"/>
<line x1="509.20" y1="443.00" x2="517.10" y2="443.00" stroke="#111" stroke-width="1.7" stroke-linecap="butt"/>
<text x="0" y="0" font-size="13.3" font-weight="bold" text-anchor="end" transform="translate(507.80,448.40) scale(1,1.04)" >1.5</text>
<line x1="509.20" y1="496.73" x2="517.10" y2="496.73" stroke="#111" stroke-width="1.7" stroke-linecap="butt"/>
<text x="0" y="0" font-size="13.3" font-weight="bold" text-anchor="end" transform="translate(507.80,502.13) scale(1,1.04)" >1.0</text>
<line x1="509.20" y1="550.47" x2="517.10" y2="550.47" stroke="#111" stroke-width="1.7" stroke-linecap="butt"/>
<text x="0" y="0" font-size="13.3" font-weight="bold" text-anchor="end" transform="translate(507.80,555.87) scale(1,1.04)" >0.5</text>
<text x="0" y="0" font-size="13.3" font-weight="bold" text-anchor="end" transform="translate(507.80,609.60) scale(1,1.04)" >0.0</text>
<line x1="538.20" y1="604.20" x2="538.20" y2="611.00" stroke="#111" stroke-width="1.7" stroke-linecap="butt"/>
<line x1="571.43" y1="604.20" x2="571.43" y2="611.00" stroke="#111" stroke-width="1.7" stroke-linecap="butt"/>
<line x1="604.66" y1="604.20" x2="604.66" y2="611.00" stroke="#111" stroke-width="1.7" stroke-linecap="butt"/>
<line x1="637.89" y1="604.20" x2="637.89" y2="611.00" stroke="#111" stroke-width="1.7" stroke-linecap="butt"/>
<text x="0" y="0" font-size="13.3" font-weight="bold" text-anchor="middle" transform="translate(538.20,624.90) scale(1,1.04)" >0</text>
<text x="0" y="0" font-size="13.3" font-weight="bold" text-anchor="middle" transform="translate(571.43,624.90) scale(1,1.04)" >5</text>
<text x="0" y="0" font-size="13.3" font-weight="bold" text-anchor="middle" transform="translate(604.66,624.90) scale(1,1.04)" >10</text>
<text x="0" y="0" font-size="13.3" font-weight="bold" text-anchor="middle" transform="translate(637.89,624.90) scale(1,1.04)" >20</text>
<text x="0" y="0" font-size="13.3" font-weight="bold" text-anchor="middle" transform="translate(480.60,523.60) rotate(-90) scale(1,0.97)" >Relative fold difference</text>
<text x="0" y="0" font-size="13.3" font-weight="bold" text-anchor="middle" transform="translate(588.55,645.00) scale(1,1.04)" >[DEX] (µM)</text>
<text x="0" y="0" font-size="20" font-weight="bold" text-anchor="start" transform="translate(499.60,427.50) scale(1,1.04)" >F</text>
<line x1="108.60" y1="797.20" x2="108.60" y2="804.80" stroke="#111" stroke-width="2.0" stroke-linecap="butt"/>
<line x1="108.60" y1="819.00" x2="108.60" y2="823.00" stroke="#111" stroke-width="2.0" stroke-linecap="butt"/>
<line x1="100.25" y1="797.20" x2="116.95" y2="797.20" stroke="#111" stroke-width="2.4" stroke-linecap="butt"/>
<line x1="100.25" y1="823.00" x2="116.95" y2="823.00" stroke="#111" stroke-width="2.4" stroke-linecap="butt"/>
<rect x="92.60" y="804.80" width="32.00" height="14.20" fill="#dcdcdc" stroke="#000" stroke-width="2.4"/>
<line x1="92.60" y1="810.80" x2="124.60" y2="810.80" stroke="#000" stroke-width="2.4" stroke-linecap="butt"/>
<line x1="146.35" y1="802.80" x2="146.35" y2="820.30" stroke="#111" stroke-width="2.0" stroke-linecap="butt"/>
<line x1="146.35" y1="852.60" x2="146.35" y2="855.50" stroke="#111" stroke-width="2.0" stroke-linecap="butt"/>
<line x1="138.00" y1="802.80" x2="154.70" y2="802.80" stroke="#111" stroke-width="2.4" stroke-linecap="butt"/>
<line x1="138.00" y1="855.50" x2="154.70" y2="855.50" stroke="#111" stroke-width="2.4" stroke-linecap="butt"/>
<rect x="130.35" y="820.30" width="32.00" height="32.30" fill="#c8dcf7" stroke="#000" stroke-width="2.4"/>
<line x1="130.35" y1="830.50" x2="162.35" y2="830.50" stroke="#000" stroke-width="2.4" stroke-linecap="butt"/>
<circle cx="108.40" cy="797.00" r="3.3" fill="#787878"/>
<circle cx="108.40" cy="805.30" r="3.3" fill="#787878"/>
<circle cx="108.40" cy="812.00" r="3.3" fill="#787878"/>
<circle cx="122.30" cy="809.40" r="3.3" fill="#787878"/>
<circle cx="115.40" cy="819.40" r="3.3" fill="#787878"/>
<circle cx="101.50" cy="823.00" r="3.3" fill="#787878"/>
<circle cx="146.30" cy="802.60" r="3.3" fill="#084c62"/>
<circle cx="139.60" cy="823.30" r="3.3" fill="#084c62"/>
<circle cx="139.60" cy="831.20" r="3.3" fill="#084c62"/>
<circle cx="152.40" cy="829.80" r="3.3" fill="#084c62"/>
<circle cx="139.60" cy="855.50" r="3.3" fill="#084c62"/>
<circle cx="152.40" cy="853.10" r="3.3" fill="#084c62"/>
<path d="M108.40 787.40V778.40H146.30V793.00" stroke="#111" stroke-width="1.8" fill="none"/>
<path d="M127.35 770.60L127.35 764.60M124.75 769.10L129.95 766.10M124.75 766.10L129.95 769.10" stroke="#111" stroke-width="1.6" stroke-linecap="round" fill="none"/>
<line x1="73.90" y1="754.80" x2="73.90" y2="916.00" stroke="#111" stroke-width="1.85" stroke-linecap="butt"/>
<line x1="66.90" y1="916.00" x2="180.40" y2="916.00" stroke="#111" stroke-width="1.85" stroke-linecap="butt"/>
<line x1="66.90" y1="754.80" x2="74.80" y2="754.80" stroke="#111" stroke-width="1.7" stroke-linecap="butt"/>
<text x="0" y="0" font-size="13.3" font-weight="bold" text-anchor="end" transform="translate(65.50,760.20) scale(1,1.04)" >1.5</text>
<line x1="66.90" y1="808.53" x2="74.80" y2="808.53" stroke="#111" stroke-width="1.7" stroke-linecap="butt"/>
<text x="0" y="0" font-size="13.3" font-weight="bold" text-anchor="end" transform="translate(65.50,813.93) scale(1,1.04)" >1.0</text>
<line x1="66.90" y1="862.27" x2="74.80" y2="862.27" stroke="#111" stroke-width="1.7" stroke-linecap="butt"/>
<text x="0" y="0" font-size="13.3" font-weight="bold" text-anchor="end" transform="translate(65.50,867.67) scale(1,1.04)" >0.5</text>
<text x="0" y="0" font-size="13.3" font-weight="bold" text-anchor="end" transform="translate(65.50,921.40) scale(1,1.04)" >0.0</text>
<line x1="127.40" y1="916.00" x2="127.40" y2="922.80" stroke="#111" stroke-width="1.7" stroke-linecap="butt"/>
<text x="0" y="0" font-size="13.3" font-weight="bold" text-anchor="end" transform="translate(129.90,937.20) rotate(-45) scale(1,1.04)" >20</text>
<text x="0" y="0" font-size="13.3" font-weight="bold" text-anchor="middle" transform="translate(38.30,835.40) rotate(-90) scale(1,0.97)" >Relative fold difference</text>
<text x="0" y="0" font-size="13.3" font-weight="bold" text-anchor="middle" transform="translate(128.05,966.00) scale(1,1.04)" >[DEX] (µM)</text>
<text x="0" y="0" font-size="20" font-weight="bold" text-anchor="start" transform="translate(57.40,739.40) scale(1,1.04)" >G</text>
<line x1="302.00" y1="852.80" x2="302.00" y2="860.00" stroke="#111" stroke-width="2.0" stroke-linecap="butt"/>
<line x1="302.00" y1="865.30" x2="302.00" y2="866.00" stroke="#111" stroke-width="2.0" stroke-linecap="butt"/>
<line x1="297.50" y1="852.80" x2="306.50" y2="852.80" stroke="#111" stroke-width="2.4" stroke-linecap="butt"/>
<line x1="297.50" y1="866.00" x2="306.50" y2="866.00" stroke="#111" stroke-width="2.4" stroke-linecap="butt"/>
<rect x="294.00" y="860.00" width="16.00" height="5.30" fill="#dcdcdc" stroke="#000" stroke-width="2.4"/>
<line x1="294.00" y1="862.50" x2="310.00" y2="862.50" stroke="#000" stroke-width="2.4" stroke-linecap="butt"/>
<line x1="322.90" y1="859.40" x2="322.90" y2="868.20" stroke="#111" stroke-width="2.0" stroke-linecap="butt"/>
<line x1="322.90" y1="874.80" x2="322.90" y2="879.00" stroke="#111" stroke-width="2.0" stroke-linecap="butt"/>
<line x1="318.40" y1="859.40" x2="327.40" y2="859.40" stroke="#111" stroke-width="2.4" stroke-linecap="butt"/>
<line x1="318.40" y1="879.00" x2="327.40" y2="879.00" stroke="#111" stroke-width="2.4" stroke-linecap="butt"/>
<rect x="314.90" y="868.20" width="16.00" height="6.60" fill="#c8dcf7" stroke="#000" stroke-width="2.4"/>
<line x1="314.90" y1="871.50" x2="330.90" y2="871.50" stroke="#000" stroke-width="2.4" stroke-linecap="butt"/>
<line x1="353.30" y1="829.10" x2="353.30" y2="833.00" stroke="#111" stroke-width="2.0" stroke-linecap="butt"/>
<line x1="353.30" y1="865.40" x2="353.30" y2="866.40" stroke="#111" stroke-width="2.0" stroke-linecap="butt"/>
<line x1="348.80" y1="829.10" x2="357.80" y2="829.10" stroke="#111" stroke-width="2.4" stroke-linecap="butt"/>
<line x1="348.80" y1="866.40" x2="357.80" y2="866.40" stroke="#111" stroke-width="2.4" stroke-linecap="butt"/>
<rect x="345.30" y="833.00" width="16.00" height="32.40" fill="#dcdcdc" stroke="#000" stroke-width="2.4"/>
<line x1="345.30" y1="855.80" x2="361.30" y2="855.80" stroke="#000" stroke-width="2.4" stroke-linecap="butt"/>
<line x1="374.20" y1="816.00" x2="374.20" y2="820.60" stroke="#111" stroke-width="2.0" stroke-linecap="butt"/>
<line x1="374.20" y1="874.00" x2="374.20" y2="878.80" stroke="#111" stroke-width="2.0" stroke-linecap="butt"/>
<line x1="369.70" y1="816.00" x2="378.70" y2="816.00" stroke="#111" stroke-width="2.4" stroke-linecap="butt"/>
<line x1="369.70" y1="878.80" x2="378.70" y2="878.80" stroke="#111" stroke-width="2.4" stroke-linecap="butt"/>
<rect x="366.20" y="820.60" width="16.00" height="53.40" fill="#c8dcf7" stroke="#000" stroke-width="2.4"/>
<line x1="366.20" y1="872.00" x2="382.20" y2="872.00" stroke="#000" stroke-width="2.4" stroke-linecap="butt"/>
<line x1="404.50" y1="826.20" x2="404.50" y2="833.00" stroke="#111" stroke-width="2.0" stroke-linecap="butt"/>
<line x1="404.50" y1="860.20" x2="404.50" y2="868.00" stroke="#111" stroke-width="2.0" stroke-linecap="butt"/>
<line x1="400.00" y1="826.20" x2="409.00" y2="826.20" stroke="#111" stroke-width="2.4" stroke-linecap="butt"/>
<line x1="400.00" y1="868.00" x2="409.00" y2="868.00" stroke="#111" stroke-width="2.4" stroke-linecap="butt"/>
<rect x="396.50" y="833.00" width="16.00" height="27.20" fill="#dcdcdc" stroke="#000" stroke-width="2.4"/>
<line x1="396.50" y1="835.00" x2="412.50" y2="835.00" stroke="#000" stroke-width="2.4" stroke-linecap="butt"/>
<line x1="425.40" y1="860.50" x2="425.40" y2="867.40" stroke="#111" stroke-width="2.0" stroke-linecap="butt"/>
<line x1="425.40" y1="880.00" x2="425.40" y2="885.30" stroke="#111" stroke-width="2.0" stroke-linecap="butt"/>
<line x1="420.90" y1="860.50" x2="429.90" y2="860.50" stroke="#111" stroke-width="2.4" stroke-linecap="butt"/>
<line x1="420.90" y1="885.30" x2="429.90" y2="885.30" stroke="#111" stroke-width="2.4" stroke-linecap="butt"/>
<rect x="417.40" y="867.40" width="16.00" height="12.60" fill="#c8dcf7" stroke="#000" stroke-width="2.4"/>
<line x1="417.40" y1="874.00" x2="433.40" y2="874.00" stroke="#000" stroke-width="2.4" stroke-linecap="butt"/>
<circle cx="301.80" cy="852.80" r="3.3" fill="#787878"/>
<circle cx="294.90" cy="862.00" r="3.3" fill="#787878"/>
<circle cx="301.80" cy="862.00" r="3.3" fill="#787878"/>
<circle cx="308.70" cy="862.00" r="3.3" fill="#787878"/>
<circle cx="298.00" cy="862.50" r="3.3" fill="#787878"/>
<circle cx="305.50" cy="862.50" r="3.3" fill="#787878"/>
<circle cx="347.30" cy="832.00" r="3.3" fill="#787878"/>
<circle cx="359.70" cy="829.10" r="3.3" fill="#787878"/>
<circle cx="347.30" cy="856.10" r="3.3" fill="#787878"/>
<circle cx="359.70" cy="856.10" r="3.3" fill="#787878"/>
<circle cx="347.30" cy="866.40" r="3.3" fill="#787878"/>
<circle cx="359.70" cy="866.40" r="3.3" fill="#787878"/>
<circle cx="410.80" cy="826.20" r="3.3" fill="#787878"/>
<circle cx="397.70" cy="834.20" r="3.3" fill="#787878"/>
<circle cx="404.20" cy="832.00" r="3.3" fill="#787878"/>
<circle cx="410.80" cy="835.00" r="3.3" fill="#787878"/>
<circle cx="404.20" cy="859.00" r="3.3" fill="#787878"/>
<circle cx="404.20" cy="868.10" r="3.3" fill="#787878"/>
<circle cx="322.80" cy="859.40" r="3.3" fill="#084c62"/>
<circle cx="316.50" cy="870.50" r="3.3" fill="#084c62"/>
<circle cx="329.00" cy="869.90" r="3.3" fill="#084c62"/>
<circle cx="322.80" cy="870.00" r="3.3" fill="#084c62"/>
<circle cx="324.40" cy="875.10" r="3.3" fill="#084c62"/>
<circle cx="320.50" cy="879.00" r="3.3" fill="#084c62"/>
<circle cx="371.40" cy="820.40" r="3.3" fill="#084c62"/>
<circle cx="377.20" cy="816.00" r="3.3" fill="#084c62"/>
<circle cx="373.90" cy="867.50" r="3.3" fill="#084c62"/>
<circle cx="367.70" cy="878.80" r="3.3" fill="#084c62"/>
<circle cx="373.90" cy="876.60" r="3.3" fill="#084c62"/>
<circle cx="380.60" cy="878.00" r="3.3" fill="#084c62"/>
<circle cx="425.10" cy="860.50" r="3.3" fill="#084c62"/>
<circle cx="425.10" cy="867.10" r="3.3" fill="#084c62"/>
<circle cx="418.80" cy="876.60" r="3.3" fill="#084c62"/>
<circle cx="431.70" cy="875.10" r="3.3" fill="#084c62"/>
<circle cx="418.80" cy="885.30" r="3.3" fill="#084c62"/>
<circle cx="431.70" cy="882.40" r="3.3" fill="#084c62"/>
<path d="M301.80 842.90V796.80H322.80V849.50" stroke="#111" stroke-width="1.8" fill="none"/>
<text x="0" y="0" font-size="13.5" font-weight="normal" text-anchor="middle" transform="translate(312.30,789.30) scale(1,1.04)" >ns</text>
<path d="M353.10 818.90V796.80H374.10V806.20" stroke="#111" stroke-width="1.8" fill="none"/>
<text x="0" y="0" font-size="13.5" font-weight="normal" text-anchor="middle" transform="translate(363.60,789.30) scale(1,1.04)" >ns</text>
<path d="M404.30 817.00V796.80H425.30V851.00" stroke="#111" stroke-width="1.8" fill="none"/>
<path d="M410.00 789.00L410.00 783.00M407.40 787.50L412.60 784.50M407.40 784.50L412.60 787.50" stroke="#111" stroke-width="1.6" stroke-linecap="round" fill="none"/>
<path d="M419.60 789.00L419.60 783.00M417.00 787.50L422.20 784.50M417.00 784.50L422.20 787.50" stroke="#111" stroke-width="1.6" stroke-linecap="round" fill="none"/>
<line x1="283.00" y1="754.80" x2="283.00" y2="916.00" stroke="#111" stroke-width="1.85" stroke-linecap="butt"/>
<line x1="276.00" y1="916.00" x2="444.90" y2="916.00" stroke="#111" stroke-width="1.85" stroke-linecap="butt"/>
<line x1="276.00" y1="754.80" x2="283.90" y2="754.80" stroke="#111" stroke-width="1.7" stroke-linecap="butt"/>
<text x="0" y="0" font-size="13.3" font-weight="bold" text-anchor="end" transform="translate(274.60,760.20) scale(1,1.04)" >1.5</text>
<line x1="276.00" y1="808.53" x2="283.90" y2="808.53" stroke="#111" stroke-width="1.7" stroke-linecap="butt"/>
<text x="0" y="0" font-size="13.3" font-weight="bold" text-anchor="end" transform="translate(274.60,813.93) scale(1,1.04)" >1.0</text>
<line x1="276.00" y1="862.27" x2="283.90" y2="862.27" stroke="#111" stroke-width="1.7" stroke-linecap="butt"/>
<text x="0" y="0" font-size="13.3" font-weight="bold" text-anchor="end" transform="translate(274.60,867.67) scale(1,1.04)" >0.5</text>
<text x="0" y="0" font-size="13.3" font-weight="bold" text-anchor="end" transform="translate(274.60,921.40) scale(1,1.04)" >0.0</text>
<line x1="312.30" y1="916.00" x2="312.30" y2="922.80" stroke="#111" stroke-width="1.7" stroke-linecap="butt"/>
<line x1="363.60" y1="916.00" x2="363.60" y2="922.80" stroke="#111" stroke-width="1.7" stroke-linecap="butt"/>
<line x1="414.80" y1="916.00" x2="414.80" y2="922.80" stroke="#111" stroke-width="1.7" stroke-linecap="butt"/>
<text x="0" y="0" font-size="13.3" font-weight="bold" text-anchor="end" transform="translate(314.80,937.20) rotate(-45) scale(1,1.04)" >5</text>
<text x="0" y="0" font-size="13.3" font-weight="bold" text-anchor="end" transform="translate(366.10,936.40) rotate(-45) scale(1,1.04)" >10</text>
<text x="0" y="0" font-size="13.3" font-weight="bold" text-anchor="end" transform="translate(419.30,934.60) rotate(-45) scale(1,1.04)" >20</text>
<text x="0" y="0" font-size="13.3" font-weight="bold" text-anchor="middle" transform="translate(247.40,835.40) rotate(-90) scale(1,0.97)" >Relative fold difference</text>
<text x="0" y="0" font-size="13.3" font-weight="bold" text-anchor="middle" transform="translate(363.95,970.20) scale(1,1.04)" >[DEX] (µM)</text>
<text x="0" y="0" font-size="20" font-weight="bold" text-anchor="start" transform="translate(266.60,739.20) scale(1,1.04)" >H</text>
<line x1="535.10" y1="843.40" x2="535.10" y2="847.20" stroke="#111" stroke-width="2.0" stroke-linecap="butt"/>
<line x1="535.10" y1="870.80" x2="535.10" y2="876.00" stroke="#111" stroke-width="2.0" stroke-linecap="butt"/>
<line x1="530.60" y1="843.40" x2="539.60" y2="843.40" stroke="#111" stroke-width="2.4" stroke-linecap="butt"/>
<line x1="530.60" y1="876.00" x2="539.60" y2="876.00" stroke="#111" stroke-width="2.4" stroke-linecap="butt"/>
<rect x="527.10" y="847.20" width="16.00" height="23.60" fill="#dcdcdc" stroke="#000" stroke-width="2.4"/>
<line x1="527.10" y1="870.80" x2="543.10" y2="870.80" stroke="#000" stroke-width="2.4" stroke-linecap="butt"/>
<line x1="556.00" y1="849.30" x2="556.00" y2="854.70" stroke="#111" stroke-width="2.0" stroke-linecap="butt"/>
<line x1="556.00" y1="858.50" x2="556.00" y2="859.50" stroke="#111" stroke-width="2.0" stroke-linecap="butt"/>
<line x1="551.50" y1="849.30" x2="560.50" y2="849.30" stroke="#111" stroke-width="2.4" stroke-linecap="butt"/>
<line x1="551.50" y1="859.50" x2="560.50" y2="859.50" stroke="#111" stroke-width="2.4" stroke-linecap="butt"/>
<rect x="548.00" y="854.70" width="16.00" height="3.80" fill="#c8dcf7" stroke="#000" stroke-width="2.4"/>
<line x1="548.00" y1="856.50" x2="564.00" y2="856.50" stroke="#000" stroke-width="2.4" stroke-linecap="butt"/>
<line x1="586.40" y1="852.80" x2="586.40" y2="859.40" stroke="#111" stroke-width="2.0" stroke-linecap="butt"/>
<line x1="586.40" y1="870.50" x2="586.40" y2="872.30" stroke="#111" stroke-width="2.0" stroke-linecap="butt"/>
<line x1="581.90" y1="852.80" x2="590.90" y2="852.80" stroke="#111" stroke-width="2.4" stroke-linecap="butt"/>
<line x1="581.90" y1="872.30" x2="590.90" y2="872.30" stroke="#111" stroke-width="2.4" stroke-linecap="butt"/>
<rect x="578.40" y="859.40" width="16.00" height="11.10" fill="#dcdcdc" stroke="#000" stroke-width="2.4"/>
<line x1="578.40" y1="866.00" x2="594.40" y2="866.00" stroke="#000" stroke-width="2.4" stroke-linecap="butt"/>
<line x1="607.30" y1="842.30" x2="607.30" y2="850.40" stroke="#111" stroke-width="2.0" stroke-linecap="butt"/>
<line x1="607.30" y1="869.80" x2="607.30" y2="874.80" stroke="#111" stroke-width="2.0" stroke-linecap="butt"/>
<line x1="602.80" y1="842.30" x2="611.80" y2="842.30" stroke="#111" stroke-width="2.4" stroke-linecap="butt"/>
<line x1="602.80" y1="874.80" x2="611.80" y2="874.80" stroke="#111" stroke-width="2.4" stroke-linecap="butt"/>
<rect x="599.30" y="850.40" width="16.00" height="19.40" fill="#c8dcf7" stroke="#000" stroke-width="2.4"/>
<line x1="599.30" y1="866.00" x2="615.30" y2="866.00" stroke="#000" stroke-width="2.4" stroke-linecap="butt"/>
<line x1="637.60" y1="843.80" x2="637.60" y2="850.60" stroke="#111" stroke-width="2.0" stroke-linecap="butt"/>
<line x1="637.60" y1="866.40" x2="637.60" y2="872.60" stroke="#111" stroke-width="2.0" stroke-linecap="butt"/>
<line x1="633.10" y1="843.80" x2="642.10" y2="843.80" stroke="#111" stroke-width="2.4" stroke-linecap="butt"/>
<line x1="633.10" y1="872.60" x2="642.10" y2="872.60" stroke="#111" stroke-width="2.4" stroke-linecap="butt"/>
<rect x="629.60" y="850.60" width="16.00" height="15.80" fill="#dcdcdc" stroke="#000" stroke-width="2.4"/>
<line x1="629.60" y1="863.00" x2="645.60" y2="863.00" stroke="#000" stroke-width="2.4" stroke-linecap="butt"/>
<line x1="658.50" y1="842.60" x2="658.50" y2="851.40" stroke="#111" stroke-width="2.0" stroke-linecap="butt"/>
<line x1="658.50" y1="867.30" x2="658.50" y2="874.50" stroke="#111" stroke-width="2.0" stroke-linecap="butt"/>
<line x1="654.00" y1="842.60" x2="663.00" y2="842.60" stroke="#111" stroke-width="2.4" stroke-linecap="butt"/>
<line x1="654.00" y1="874.50" x2="663.00" y2="874.50" stroke="#111" stroke-width="2.4" stroke-linecap="butt"/>
<rect x="650.50" y="851.40" width="16.00" height="15.90" fill="#c8dcf7" stroke="#000" stroke-width="2.4"/>
<line x1="650.50" y1="865.00" x2="666.50" y2="865.00" stroke="#000" stroke-width="2.4" stroke-linecap="butt"/>
<circle cx="529.00" cy="842.80" r="3.3" fill="#787878"/>
<circle cx="535.30" cy="846.70" r="3.3" fill="#787878"/>
<circle cx="529.00" cy="868.60" r="3.3" fill="#787878"/>
<circle cx="529.00" cy="876.60" r="3.3" fill="#787878"/>
<circle cx="535.30" cy="875.20" r="3.3" fill="#787878"/>
<circle cx="541.60" cy="875.20" r="3.3" fill="#787878"/>
<circle cx="588.30" cy="852.80" r="3.3" fill="#787878"/>
<circle cx="584.20" cy="858.40" r="3.3" fill="#787878"/>
<circle cx="584.20" cy="866.40" r="3.3" fill="#787878"/>
<circle cx="592.60" cy="867.90" r="3.3" fill="#787878"/>
<circle cx="580.10" cy="872.30" r="3.3" fill="#787878"/>
<circle cx="588.30" cy="871.50" r="3.3" fill="#787878"/>
<circle cx="631.40" cy="843.50" r="3.3" fill="#787878"/>
<circle cx="638.10" cy="850.40" r="3.3" fill="#787878"/>
<circle cx="631.40" cy="863.10" r="3.3" fill="#787878"/>
<circle cx="638.10" cy="865.40" r="3.3" fill="#787878"/>
<circle cx="644.20" cy="867.20" r="3.3" fill="#787878"/>
<circle cx="631.40" cy="872.60" r="3.3" fill="#787878"/>
<circle cx="559.10" cy="849.30" r="3.3" fill="#084c62"/>
<circle cx="552.80" cy="854.70" r="3.3" fill="#084c62"/>
<circle cx="549.90" cy="859.10" r="3.3" fill="#084c62"/>
<circle cx="555.80" cy="858.40" r="3.3" fill="#084c62"/>
<circle cx="562.30" cy="859.10" r="3.3" fill="#084c62"/>
<circle cx="556.00" cy="856.00" r="3.3" fill="#084c62"/>
<circle cx="607.30" cy="842.30" r="3.3" fill="#084c62"/>
<circle cx="607.30" cy="851.40" r="3.3" fill="#084c62"/>
<circle cx="601.00" cy="865.00" r="3.3" fill="#084c62"/>
<circle cx="607.30" cy="865.40" r="3.3" fill="#084c62"/>
<circle cx="613.40" cy="869.30" r="3.3" fill="#084c62"/>
<circle cx="601.00" cy="874.50" r="3.3" fill="#084c62"/>
<circle cx="658.50" cy="842.60" r="3.3" fill="#084c62"/>
<circle cx="658.50" cy="850.40" r="3.3" fill="#084c62"/>
<circle cx="658.50" cy="863.10" r="3.3" fill="#084c62"/>
<circle cx="652.30" cy="873.70" r="3.3" fill="#084c62"/>
<circle cx="658.50" cy="870.00" r="3.3" fill="#084c62"/>
<circle cx="665.00" cy="871.20" r="3.3" fill="#084c62"/>
<path d="M534.90 833.90V822.90H555.90V839.40" stroke="#111" stroke-width="1.8" fill="none"/>
<text x="0" y="0" font-size="13.5" font-weight="normal" text-anchor="middle" transform="translate(545.40,815.40) scale(1,1.04)" >ns</text>
<path d="M586.20 843.80V822.90H607.20V832.40" stroke="#111" stroke-width="1.8" fill="none"/>
<text x="0" y="0" font-size="13.5" font-weight="normal" text-anchor="middle" transform="translate(596.70,815.40) scale(1,1.04)" >ns</text>
<path d="M637.40 834.70V822.90H658.40V833.30" stroke="#111" stroke-width="1.8" fill="none"/>
<text x="0" y="0" font-size="13.5" font-weight="normal" text-anchor="middle" transform="translate(647.90,815.40) scale(1,1.04)" >ns</text>
<line x1="516.10" y1="754.80" x2="516.10" y2="916.00" stroke="#111" stroke-width="1.85" stroke-linecap="butt"/>
<line x1="509.10" y1="916.00" x2="678.00" y2="916.00" stroke="#111" stroke-width="1.85" stroke-linecap="butt"/>
<line x1="509.10" y1="754.80" x2="517.00" y2="754.80" stroke="#111" stroke-width="1.7" stroke-linecap="butt"/>
<text x="0" y="0" font-size="13.3" font-weight="bold" text-anchor="end" transform="translate(507.70,760.20) scale(1,1.04)" >1.5</text>
<line x1="509.10" y1="808.53" x2="517.00" y2="808.53" stroke="#111" stroke-width="1.7" stroke-linecap="butt"/>
<text x="0" y="0" font-size="13.3" font-weight="bold" text-anchor="end" transform="translate(507.70,813.93) scale(1,1.04)" >1.0</text>
<line x1="509.10" y1="862.27" x2="517.00" y2="862.27" stroke="#111" stroke-width="1.7" stroke-linecap="butt"/>
<text x="0" y="0" font-size="13.3" font-weight="bold" text-anchor="end" transform="translate(507.70,867.67) scale(1,1.04)" >0.5</text>
<text x="0" y="0" font-size="13.3" font-weight="bold" text-anchor="end" transform="translate(507.70,921.40) scale(1,1.04)" >0.0</text>
<line x1="545.40" y1="916.00" x2="545.40" y2="922.80" stroke="#111" stroke-width="1.7" stroke-linecap="butt"/>
<line x1="596.70" y1="916.00" x2="596.70" y2="922.80" stroke="#111" stroke-width="1.7" stroke-linecap="butt"/>
<line x1="647.90" y1="916.00" x2="647.90" y2="922.80" stroke="#111" stroke-width="1.7" stroke-linecap="butt"/>
<text x="0" y="0" font-size="13.3" font-weight="bold" text-anchor="end" transform="translate(547.90,937.20) rotate(-45) scale(1,1.04)" >5</text>
<text x="0" y="0" font-size="13.3" font-weight="bold" text-anchor="end" transform="translate(599.20,936.40) rotate(-45) scale(1,1.04)" >10</text>
<text x="0" y="0" font-size="13.3" font-weight="bold" text-anchor="end" transform="translate(652.40,934.60) rotate(-45) scale(1,1.04)" >20</text>
<text x="0" y="0" font-size="13.3" font-weight="bold" text-anchor="middle" transform="translate(480.50,835.40) rotate(-90) scale(1,0.97)" >Relative fold difference</text>
<text x="0" y="0" font-size="13.3" font-weight="bold" text-anchor="middle" transform="translate(597.05,966.00) scale(1,1.04)" >[DEX] (µM)</text>
<text x="0" y="0" font-size="20" font-weight="bold" text-anchor="start" transform="translate(500.00,739.20) scale(1,1.04)" >I</text>
</svg></body></html>
